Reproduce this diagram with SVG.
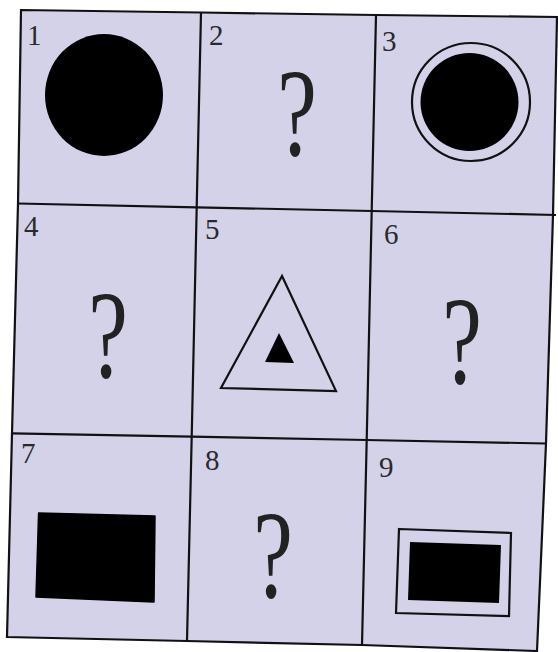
<svg xmlns="http://www.w3.org/2000/svg" width="558" height="652" viewBox="0 0 558 652">
<style>
.cell{fill:#d4d2e9;stroke:none}
.num{font-family:"Liberation Serif","Times New Roman",serif;font-size:29px;fill:#2a2a2a}
.q{font-family:"Liberation Serif","Times New Roman",serif;font-size:124px;fill:#222;text-anchor:middle}
.grid{fill:none;stroke:#111;stroke-width:2.2;stroke-linejoin:miter}
.ink{fill:#000}
.ring{fill:none;stroke:#111;stroke-width:2.2}
</style>
<rect width="558" height="652" fill="#fff"/>
<g id="cell1">
<polygon class="cell" points="21,10 201,12.5 196.7,207.3 18,203.5"/>
<text class="num" x="27" y="45">1</text>
<ellipse class="ink" cx="104" cy="95" rx="59" ry="61"/>
</g>
<g id="cell2">
<polygon class="cell" points="201,12.5 376,15 371.7,211 196.7,207.3"/>
<text class="num" x="209" y="45">2</text>
<text class="q" transform="translate(297,155) scale(0.72,1)">?</text>
</g>
<g id="cell3">
<polygon class="cell" points="376,15 557,17 553,215 371.7,211"/>
<text class="num" x="382" y="51">3</text>
<circle class="ring" cx="471" cy="102" r="59"/>
<circle class="ink" cx="469.5" cy="102" r="49"/>
</g>
<g id="cell4">
<polygon class="cell" points="18,203.5 196.7,207.3 191.7,436.7 12,433.3"/>
<text class="num" x="24" y="236">4</text>
<text class="q" transform="translate(108,377) scale(0.72,1)">?</text>
</g>
<g id="cell5">
<polygon class="cell" points="196.7,207.3 371.7,211 366.7,440 191.7,436.7"/>
<text class="num" x="205" y="239">5</text>
<polygon class="ring" points="282,276 221,388 336,391"/>
<polygon class="ink" points="279,333 265,362 294,363"/>
</g>
<g id="cell6">
<polygon class="cell" points="371.7,211 553,215 546,443.5 366.7,440"/>
<text class="num" x="384" y="244">6</text>
<text class="q" transform="translate(462,383) scale(0.72,1)">?</text>
</g>
<g id="cell7">
<polygon class="cell" points="12,433.3 191.7,436.7 187,641 7,637"/>
<text class="num" x="21" y="463">7</text>
<polygon class="ink" points="38.6,513 155,516 154,602 36,597" stroke="#000" stroke-width="1.5" stroke-linejoin="round"/>
</g>
<g id="cell8">
<polygon class="cell" points="191.7,436.7 366.7,440 362,645 187,641"/>
<text class="num" x="205" y="470">8</text>
<text class="q" transform="translate(273,597) scale(0.72,1)">?</text>
</g>
<g id="cell9">
<polygon class="cell" points="366.7,440 546,443.5 537,651 362,645"/>
<text class="num" x="379" y="477">9</text>
<polygon class="ring" points="399,529 511,533 509,616 396,613" stroke-width="2.6"/>
<polygon class="ink" points="410,542 501,545 499,603 408,600"/>
</g>
<g id="grid-lines">
<polygon class="grid" points="21,10 201,12.5 376,15 557,17 553,215 546,443.5 537,651 362,645 187,641 7,637 12,433.3 18,203.5" stroke-width="2.6"/>
<polyline class="grid" points="201,12.5 196.7,207.3 191.7,436.7 187,641"/>
<polyline class="grid" points="376,15 371.7,211 366.7,440 362,645"/>
<polyline class="grid" points="18,203.5 196.7,207.3 371.7,211 556,215"/>
<polyline class="grid" points="12,433.3 191.7,436.7 366.7,440 546,443.5"/>
</g>
</svg>
